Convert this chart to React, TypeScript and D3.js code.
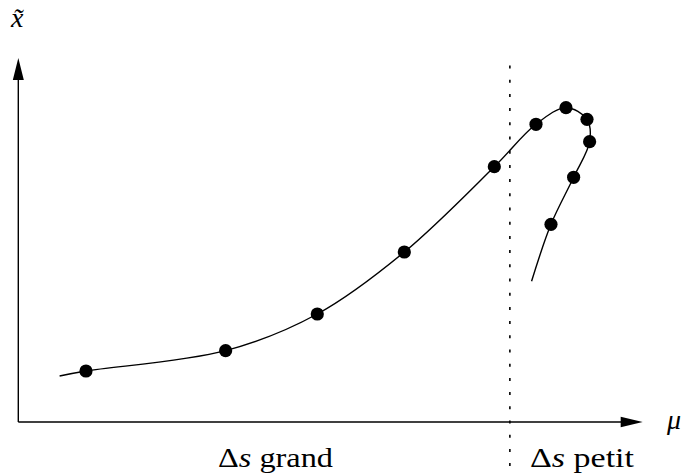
import React from "react";
import * as d3 from "d3";

// Curve samples (μ, x̃) in arbitrary units; endpoints carry no marker
const curveMu = [0.664, 1.088, 3.333, 4.807, 6.206, 7.653, 8.323, 8.805, 9.143, 9.185, 8.928, 8.564, 8.252];
const curveX = [1.264, 1.401, 1.959, 2.967, 4.670, 7.014, 8.179, 8.635, 8.316, 7.701, 6.723, 5.431, 3.865];
// Marker points
const pointMu = [1.088, 3.333, 4.807, 6.206, 7.653, 8.323, 8.805, 9.143, 9.185, 8.928, 8.564];
const pointX = [1.401, 1.959, 2.967, 4.670, 7.014, 8.179, 8.635, 8.316, 7.701, 6.723, 5.431];
// Regime boundary
const boundaryMu = 7.903;
const regionLabels = ["grand", "petit"];

const W = 683;
const H = 474;

export default function App() {
  const x = d3.scaleLinear().domain([0, 10]).range([18.3, 640.3]);
  const y = d3.scaleLinear().domain([0, 10]).range([422, 58]);
  const x0 = x(0);
  const y0 = y(0);

  const pts: [number, number][] = curveMu.map((m, i) => [x(m), y(curveX[i])]);
  const line = d3.line<[number, number]>().curve(d3.curveCatmullRom.alpha(0.5));
  const path = line(pts) || "";

  const bx = x(boundaryMu);
  const serif = { fontFamily: "'Liberation Serif', serif" };

  return (
    <svg width={W} height={H} style={{ position: "absolute", left: 0, top: 0, background: "#fff" }}>
      {/* axes */}
      <line x1={x0} y1={y0} x2={x0} y2={80} stroke="#000" strokeWidth={1.4} />
      <polygon points={`${x0},58 ${x0 - 5.5},80 ${x0 + 5.5},80`} fill="#000" />
      <line x1={x0} y1={y0} x2={621} y2={y0} stroke="#000" strokeWidth={1.4} />
      <polygon points={`642.7,${y0} 620.7,${y0 - 5.2} 620.7,${y0 + 5.2}`} fill="#000" />

      {/* boundary */}
      <line x1={bx} y1={65.5} x2={bx} y2={H} stroke="#000" strokeWidth={1.6} strokeDasharray="3 11.2" />

      {/* curve */}
      <path d={path} fill="none" stroke="#000" strokeWidth={1.4} />
      {pointMu.map((m, i) => (
        <circle key={i} cx={x(m)} cy={y(pointX[i])} r={6.6} fill="#000" />
      ))}

      {/* labels */}
      <text x={11} y={26.5} style={{ ...serif, fontStyle: "italic", fontSize: "28px" }}>x̃</text>
      <text x={667} y={429} style={{ ...serif, fontStyle: "italic", fontSize: "28px" }}>μ</text>
      <text x={218} y={467} textLength={115} lengthAdjust="spacingAndGlyphs" style={{ ...serif, fontSize: "28px" }}>
        Δ<tspan style={{ fontStyle: "italic" }}>s</tspan> {regionLabels[0]}
      </text>
      <text x={530} y={467} textLength={104} lengthAdjust="spacingAndGlyphs" style={{ ...serif, fontSize: "28px" }}>
        Δ<tspan style={{ fontStyle: "italic" }}>s</tspan> {regionLabels[1]}
      </text>
    </svg>
  );
}
